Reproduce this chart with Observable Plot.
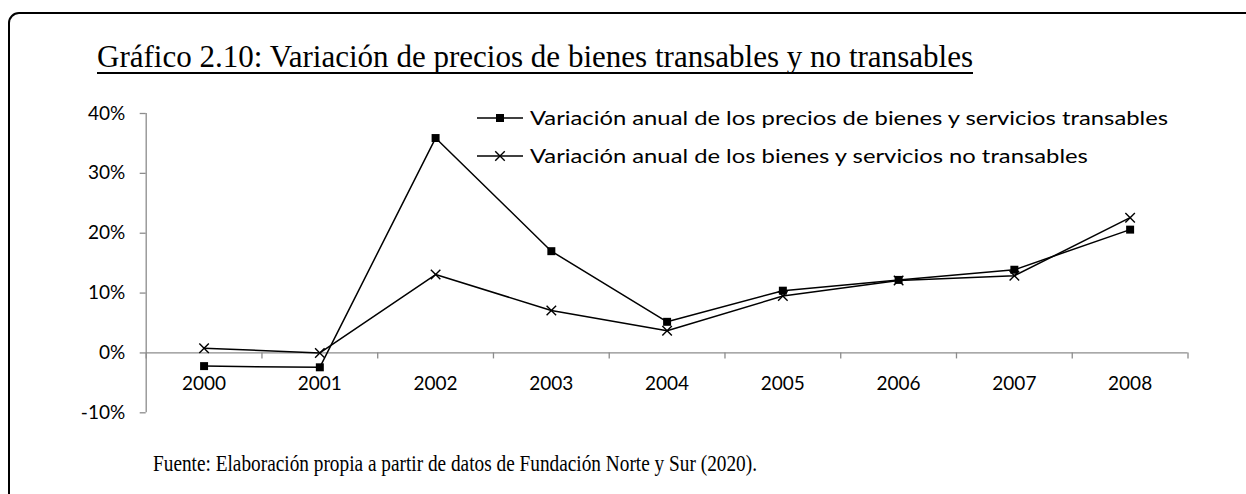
<!DOCTYPE html>
<html><head><meta charset="utf-8">
<script src="https://cdn.jsdelivr.net/npm/d3@7"></script>
<script src="https://cdn.jsdelivr.net/npm/@observablehq/plot@0.6"></script>
<style>
body{margin:0;background:#fff;}
#wrap{position:relative;width:1246px;height:494px;overflow:hidden;background:#fff;}
#box{position:absolute;left:8px;top:12px;width:1300px;height:600px;border:2px solid #000;border-radius:11px;box-sizing:border-box;}
#plot{position:absolute;left:0;top:90px;}
#overlay{position:absolute;left:0;top:0;}
</style></head><body>
<div id="wrap"><div id="box"></div><div id="plot"></div><svg id="overlay" width="1246" height="494"></svg></div>
<script>
const years = ["2000","2001","2002","2003","2004","2005","2006","2007","2008"];
const transables = [-2.2, -2.4, 35.9, 17.0, 5.2, 10.4, 12.2, 13.9, 20.6];
const noTransables = [0.8, 0.0, 13.1, 7.1, 3.7, 9.5, 12.1, 12.9, 22.6];
const yTicks = [-10, 0, 10, 20, 30, 40];
const seriesNames = [
  "Variación anual de los precios de bienes y servicios transables",
  "Variación anual de los bienes y servicios no transables"
];
const titleText = "Gráfico 2.10: Variación de precios de bienes transables y no transables";
const captionText = "Fuente: Elaboración propia a partir de datos de Fundación Norte y Sur (2020).";

const tA = years.map((y, i) => ({i, year: y, v: transables[i]}));
const tB = years.map((y, i) => ({i, year: y, v: noTransables[i]}));
const xMin = -0.5, xMax = years.length - 0.5;
const bounds = d3.range(years.length + 1).map(k => k - 0.5);
const gray = "#8c8c8c";

const chart = Plot.plot({
  width: 1246, height: 350,
  marginTop: 23, marginBottom: 27.7, marginLeft: 145.7, marginRight: 58.5,
  style: {background: "none", fontFamily: "Lato, sans-serif", fontSize: "19px", color: "black"},
  x: {domain: [xMin, xMax], axis: null},
  y: {domain: [yTicks[0], yTicks[yTicks.length - 1]]},
  marks: [
    Plot.ruleX([xMin], {stroke: gray, strokeWidth: 1.3}),
    Plot.axisY({ticks: yTicks, tickFormat: d => d + "%", tickSize: 6, tickPadding: 15, label: null,
      stroke: gray, fill: "black", fontSize: 19, strokeWidth: 1.3}),
    Plot.ruleY([0], {stroke: gray, strokeWidth: 1.3}),
    Plot.ruleX(bounds, {y1: 0, y2: -1, stroke: gray, strokeWidth: 1.3}),
    Plot.text(tA, {x: "i", y: 0, dy: 31, text: "year", fill: "black", fontSize: 19}),
    Plot.line(tA, {x: "i", y: "v", stroke: "black", strokeWidth: 1.5}),
    Plot.line(tB, {x: "i", y: "v", stroke: "black", strokeWidth: 1.5}),
    Plot.dot(tA, {x: "i", y: "v", symbol: "square", fill: "black", r: 4.5}),
    Plot.dot(tB, {x: "i", y: "v", symbol: "times", stroke: "black", strokeWidth: 1.4, r: 4.4})
  ]
});
document.getElementById("plot").appendChild(chart);

const svg = d3.select("#overlay");
// Title
svg.append("text").attr("x", 535).attr("y", 67).attr("text-anchor", "middle")
  .style("font-family", "'Liberation Serif', serif").style("font-size", "32px").attr("fill", "black")
  .attr("textLength", 876).attr("lengthAdjust", "spacingAndGlyphs")
  .text(titleText);
svg.append("line").attr("x1", 97).attr("x2", 973).attr("y1", 73).attr("y2", 73)
  .attr("stroke", "black").attr("stroke-width", 2);

// Legend
const legY = [118, 156];
const legTexts = seriesNames.map((name, k) => svg.append("text").attr("x", 530).attr("y", legY[k]).attr("dy", "0.35em")
  .style("font-family", "Lato, sans-serif").style("font-size", "19.5px").attr("fill", "black").text(name));
const f = 638 / legTexts[0].node().getComputedTextLength();
legTexts.forEach(t => t.attr("textLength", t.node().getComputedTextLength() * f).attr("lengthAdjust", "spacingAndGlyphs"));
legY.forEach((y, k) => {
  svg.append("line").attr("x1", 477).attr("x2", 523).attr("y1", y).attr("y2", y).attr("stroke", "black").attr("stroke-width", 1.5);
  const sym = k === 0 ? d3.symbolSquare : d3.symbolTimes;
  const r = k === 0 ? 4.5 : 4.4;
  svg.append("path").attr("transform", `translate(500,${y})`)
    .attr("d", d3.symbol(sym, Math.PI * r * r)())
    .attr("fill", k === 0 ? "black" : "none").attr("stroke", k === 0 ? "none" : "black").attr("stroke-width", 1.4);
});

// Caption
svg.append("text").attr("x", 455).attr("y", 471).attr("text-anchor", "middle")
  .style("font-family", "'Liberation Serif', serif").style("font-size", "23px").attr("fill", "black")
  .attr("textLength", 604).attr("lengthAdjust", "spacingAndGlyphs").text(captionText);
</script>
</body></html>
